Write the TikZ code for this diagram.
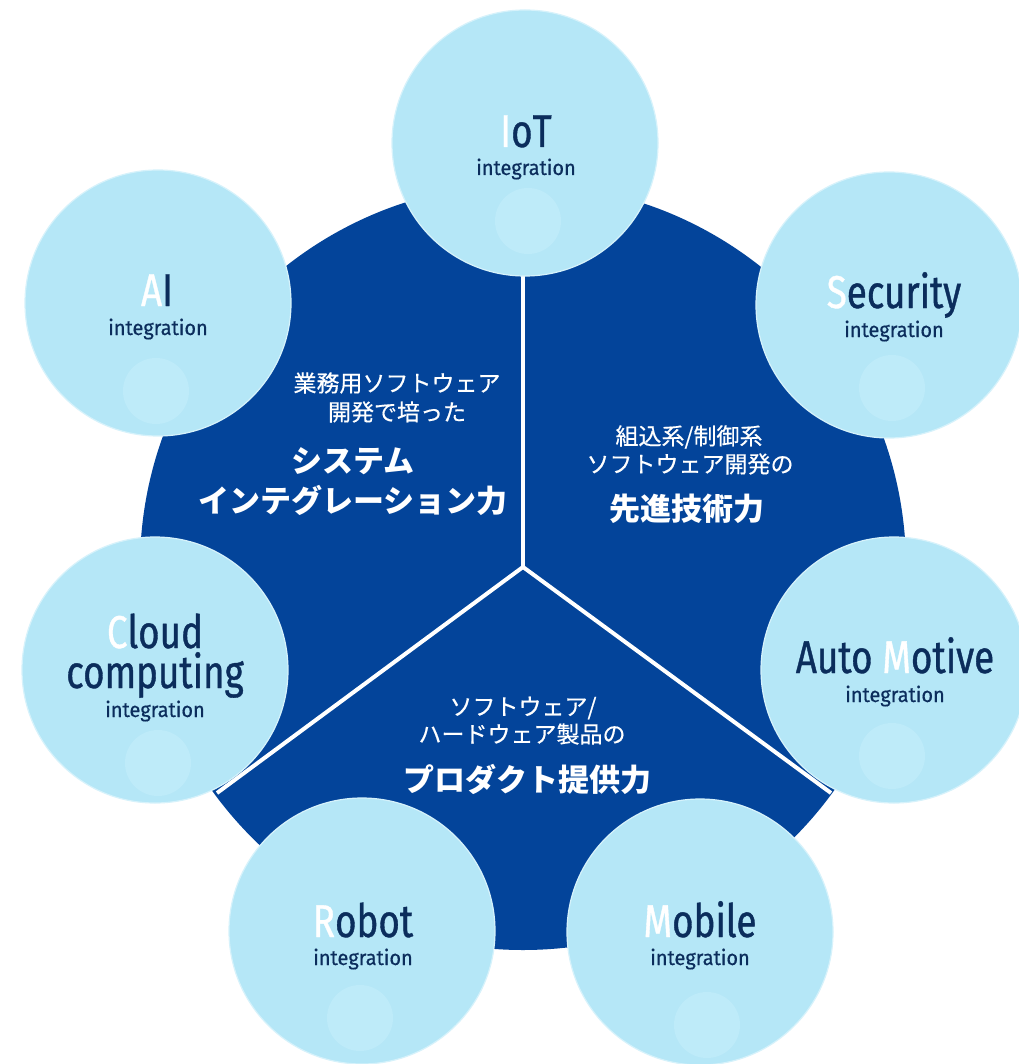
\documentclass[tikz,border=0pt]{standalone}
\usepackage{fontspec}
\newfontfamily\entitle[FakeStretch=0.8,FakeBold=0.8]{Fira Sans}
\newfontfamily\ensub[FakeStretch=0.95,FakeBold=0.5]{Fira Sans}
\newfontfamily\jp[FakeBold=0.5]{Noto Sans CJK JP}
\newfontfamily\jpb{Noto Sans CJK JP}
\definecolor{deepblue}{HTML}{03449A}
\definecolor{lightblue}{HTML}{B5E7F7}
\definecolor{paleblue}{HTML}{BEEBF9}
\definecolor{edgeblue}{HTML}{D6F2FB}
\definecolor{navy}{HTML}{0B2D5C}
\tikzset{
  bigc/.style={circle, fill=deepblue, minimum size=766pt, inner sep=0pt},
  lightc/.style={circle, fill=lightblue, draw=edgeblue, line width=1.2pt, minimum size=266pt, inner sep=0pt},
  glowc/.style={circle, fill=paleblue, minimum size=66pt, inner sep=0pt},
  divider/.style={draw=white, line width=4pt},
  title/.style={text=navy, inner sep=0pt, anchor=base, font=\entitle\fontsize{46pt}{40pt}\selectfont},
  sub/.style={text=navy, inner sep=0pt, anchor=base, font=\ensub\fontsize{21pt}{21pt}\selectfont},
  jpsmall/.style={text=white, inner sep=0pt, font=\jp\fontsize{23pt}{23pt}\selectfont},
  jpbig/.style={text=white, inner sep=0pt, font=\jpb\bfseries\fontsize{31pt}{31pt}\selectfont}
}
\begin{document}
\begin{tikzpicture}[x=1pt,y=-1pt]
\fill[white] (0,0) rectangle (1018,1064);
\useasboundingbox (0,0) rectangle (1018,1064);
% big disc
\node[bigc] (disc) at (523,567) {};
\coordinate (c) at (523,567);
\coordinate (top) at (523,260);
\coordinate (ll) at (217,793);
\coordinate (lr) at (831,793);
\draw[divider] (c) -- (top);
\draw[divider] (c) -- (ll);
\draw[divider] (c) -- (lr);
% satellite circles
\node[lightc] (iot) at (525,143) {};
\node[lightc] (ai) at (158,303) {};
\node[lightc] (sec) at (889,305) {};
\node[lightc] (cloud) at (155,670) {};
\node[lightc] (auto) at (894,670) {};
\node[lightc] (robot) at (362,931) {};
\node[lightc] (mobile) at (700,932) {};
% faint inner circles
\node[glowc] (iotg) at (528,221) {};
\node[glowc] (aig) at (156,391) {};
\node[glowc] (secg) at (892,388) {};
\node[glowc] (cloudg) at (158,763) {};
\node[glowc] (autog) at (892,756) {};
\node[glowc] (robotg) at (360,1018) {};
\node[glowc] (mobileg) at (707,1025) {};
% circle labels
\node[title] (iott) at (526,147) {{\color{white}I}oT};
\node[sub] (iots) at (526,175) {integration};
\node[title] (ait) at (157,306) {{\color{white}A}I};
\node[sub] (ais) at (158,335) {integration};
\node[title] (sect) at (894,308) {{\color{white}S}ecurity};
\node[sub] (secs) at (894,337) {integration};
\node[title, align=center] (cloudt) at (155,688) {{\color{white}C}loud\\computing};
\node[sub] (clouds) at (155,717) {integration};
\node[title] (autot) at (895,673) {Auto {\color{white}M}otive};
\node[sub] (autos) at (895,702) {integration};
\node[title] (robott) at (363,937) {{\color{white}R}obot};
\node[sub] (robots) at (363,965) {integration};
\node[title] (mobilet) at (700,937) {{\color{white}M}obile};
\node[sub] (mobiles) at (700,965) {integration};
% Japanese texts
\node[jpsmall] (l1) at (397,383) {業務用ソフトウェア};
\node[jpsmall] (l2) at (397,412) {開発で培った};
\node[jpbig] (l3) at (353,461) {システム};
\node[jpbig] (l4) at (353,500) {インテグレーション力};
\node[jpsmall] (r1) at (689,437) {組込系/制御系};
\node[jpsmall] (r2) at (690,464) {ソフトウェア開発の};
\node[jpbig] (r3) at (687,509) {先進技術力};
\node[jpsmall] (b1) at (523,708) {ソフトウェア/};
\node[jpsmall] (b2) at (522,734) {ハードウェア製品の};
\node[jpbig] (b3) at (527,779) {プロダクト提供力};
\end{tikzpicture}
\end{document}
